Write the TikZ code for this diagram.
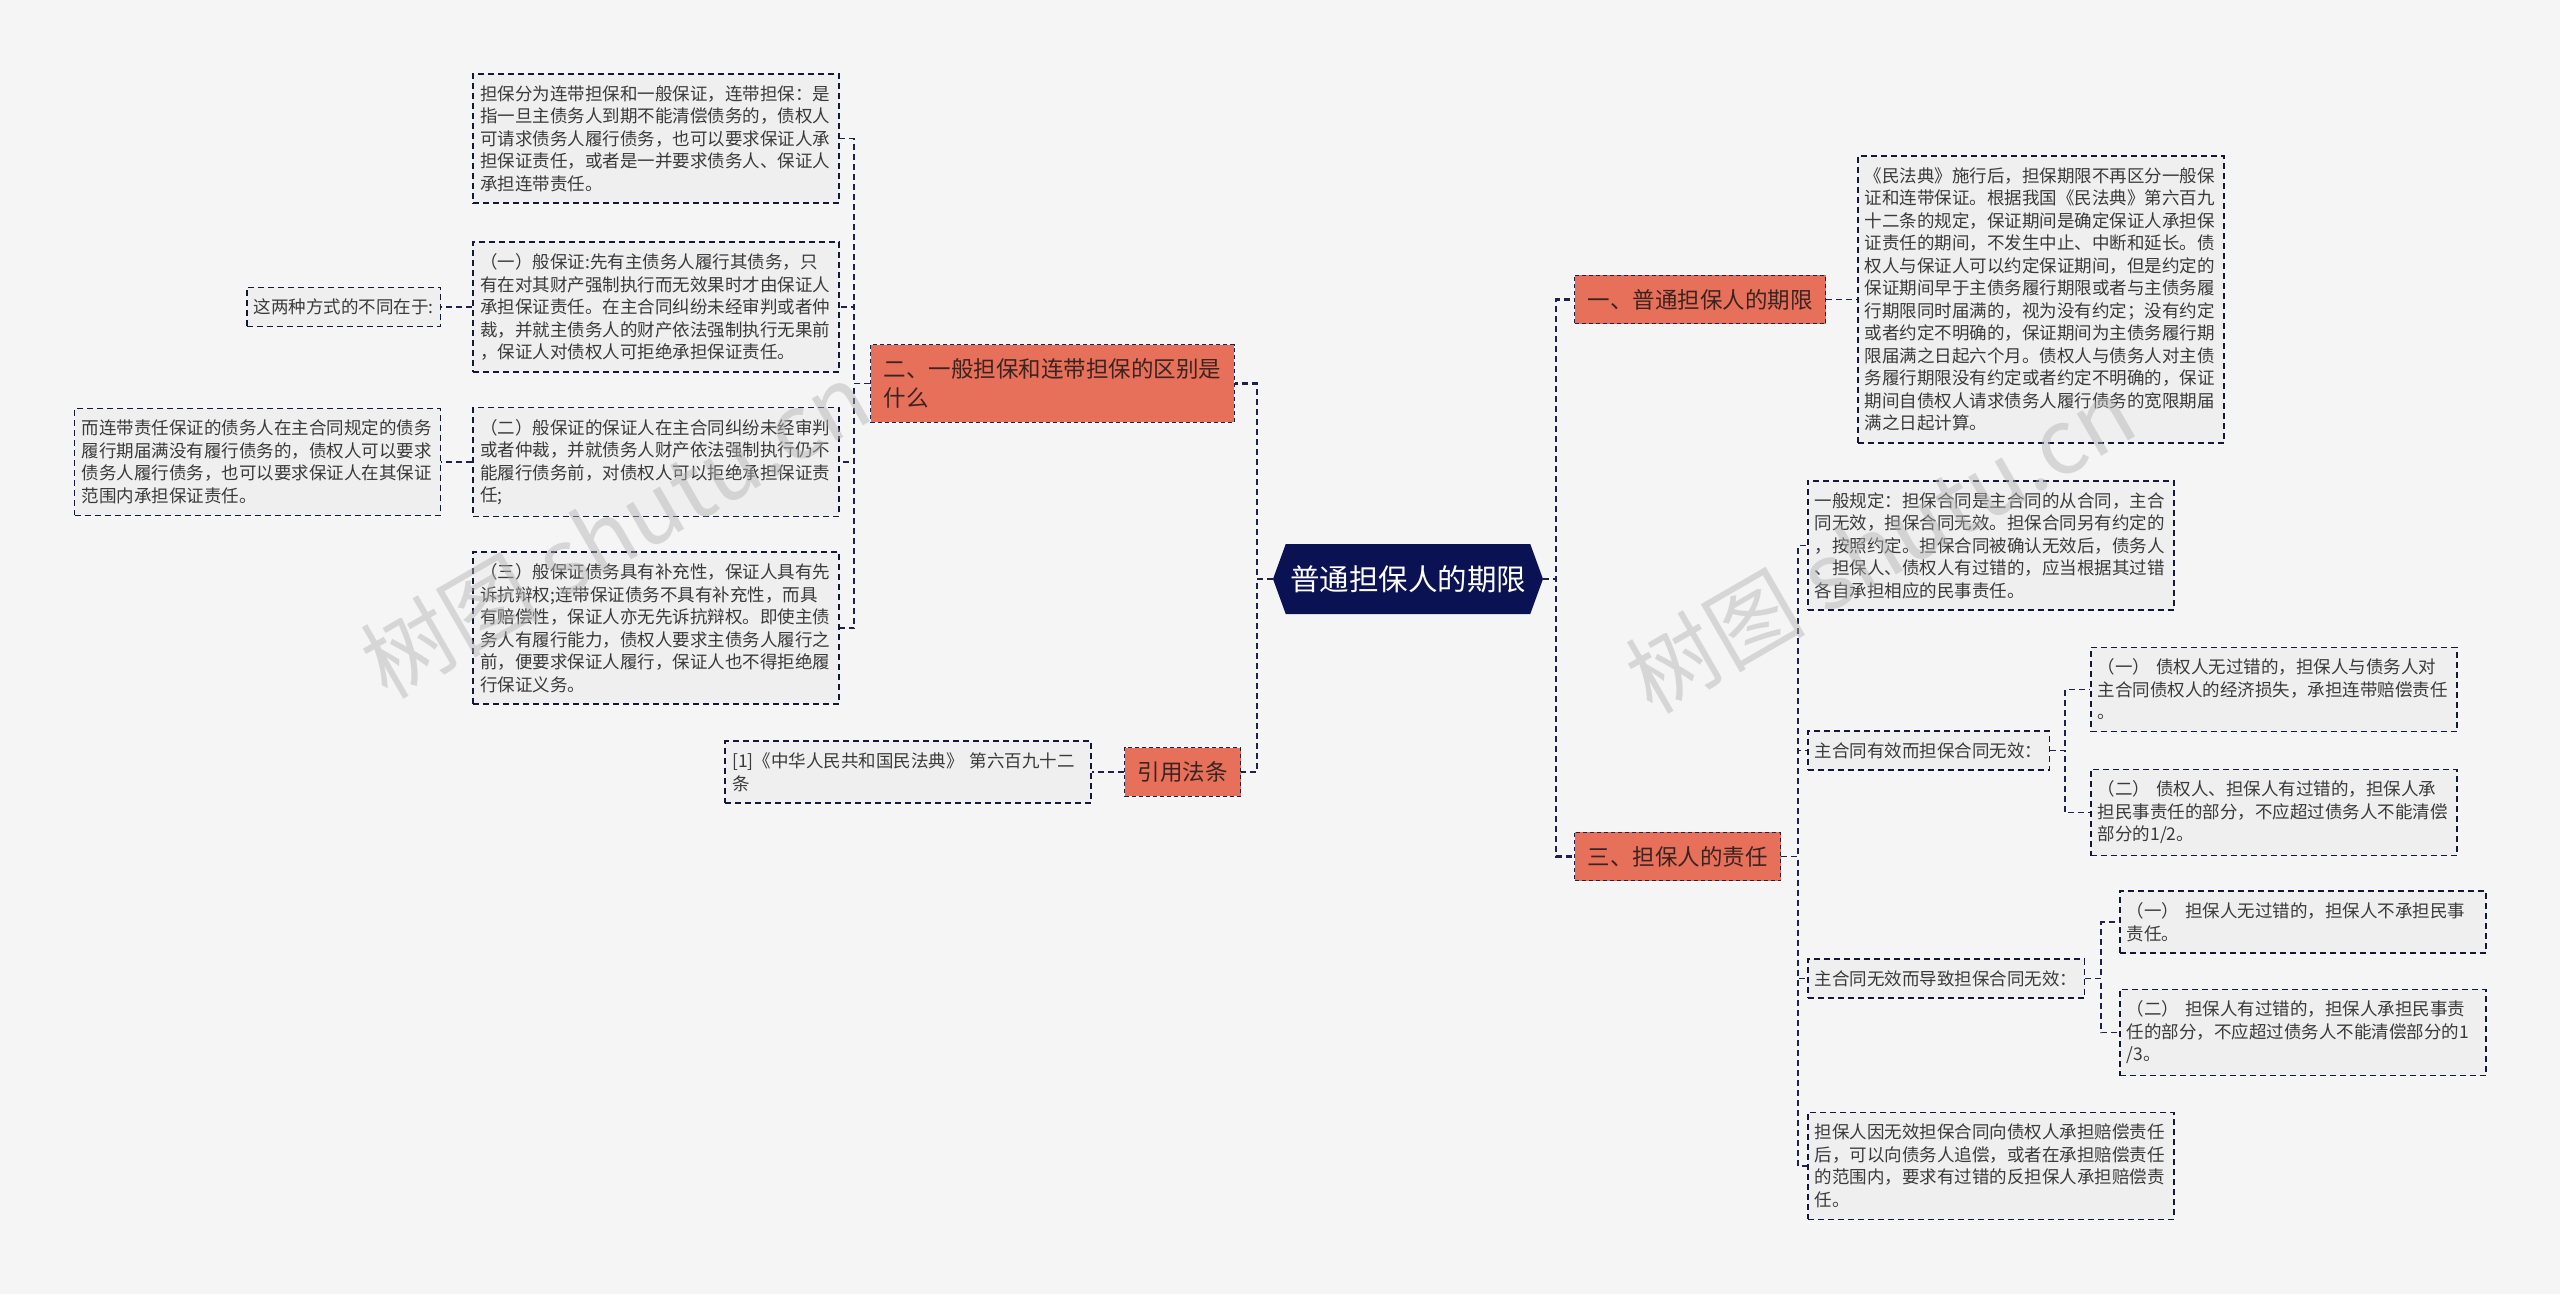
\documentclass[tikz,border=0pt]{standalone}
\usepackage{fontspec}
\setmainfont{Noto Sans CJK SC}
\usetikzlibrary{positioning, shapes.symbols}
\definecolor{canvas}{HTML}{F5F5F5}
\definecolor{notefill}{HTML}{EFEFEF}
\definecolor{ink}{HTML}{3A3A3A}
\definecolor{edge}{HTML}{1E2150}
\definecolor{branch}{HTML}{E7705B}
\definecolor{branchtext}{HTML}{3B2320}
\definecolor{rootfill}{HTML}{0B1253}

\begin{document}
\begin{tikzpicture}[
    x=1pt, y=-1pt,
    link/.style={draw=edge, line width=1.9pt, dash pattern=on 6pt off 4pt},
    trunk/.style={link, line width=2.5pt},
    root/.style={signal, signal to=west and east, signal pointer angle=140,
                 fill=rootfill, text=white, font=\fontsize{29.5}{36}\selectfont,
                 minimum width=270pt, minimum height=70pt, inner xsep=4pt},
    sub/.style={rectangle, fill=branch, draw=edge, line width=1pt,
                dash pattern=on 4pt off 3pt, text=branchtext, align=left,
                font=\fontsize{22.5}{29}\selectfont, inner xsep=13pt, inner ysep=14pt},
    tip/.style={rectangle, fill=notefill, draw=edge!70!black, line width=1.6pt,
                dash pattern=on 6pt off 4pt, text=ink, align=left,
                font=\fontsize{17.5}{22.5}\selectfont, inner xsep=7pt, inner ysep=11.5pt},
    note/.style={tip, text width=352pt},
    wmark/.style={text=black!30, opacity=0.45, rotate=30, font=\fontsize{90}{90}\selectfont}
  ]
    \useasboundingbox (0,0) rectangle (2560,1294);
    \fill[canvas] (0,0) rectangle (2560,1294);

    \node[root] (c) at (1408,579) {普通担保人的期限};

    % left side
    \node[sub, anchor=west] (b2) at (870,383.5) {二、一般担保和连带担保的区别是\\什么};
    \node[sub, anchor=east] (b3) at (1241,772) {引用法条};
    \node[note, left=32pt of b3] (cite) {[1]《中华人民共和国民法典》 第六百九十二\\条};

    \node[note, anchor=east] (l1) at (840,138.5) {担保分为连带担保和一般保证，连带担保：是\\指一旦主债务人到期不能清偿债务的，债权人\\可请求债务人履行债务，也可以要求保证人承\\担保证责任，或者是一并要求债务人、保证人\\承担连带责任。};
    \node[note, anchor=east] (l2) at (840,307) {（一）般保证:先有主债务人履行其债务，只\\有在对其财产强制执行而无效果时才由保证人\\承担保证责任。在主合同纠纷未经审判或者仲\\裁，并就主债务人的财产依法强制执行无果前\\，保证人对债权人可拒绝承担保证责任。};
    \node[note, anchor=east] (l3) at (840,462) {（二）般保证的保证人在主合同纠纷未经审判\\或者仲裁，并就债务人财产依法强制执行仍不\\能履行债务前，对债权人可以拒绝承担保证责\\任;};
    \node[note, anchor=east] (l4) at (840,628) {（三）般保证债务具有补充性，保证人具有先\\诉抗辩权;连带保证债务不具有补充性，而具\\有赔偿性，保证人亦无先诉抗辩权。即使主债\\务人有履行能力，债权人要求主债务人履行之\\前，便要求保证人履行，保证人也不得拒绝履\\行保证义务。};
    \node[tip, left=31pt of l2] (d1) {这两种方式的不同在于:};
    \node[note, left=31pt of l3] (d2) {而连带责任保证的债务人在主合同规定的债务\\履行期届满没有履行债务的，债权人可以要求\\债务人履行债务，也可以要求保证人在其保证\\范围内承担保证责任。};

    % right side
    \node[sub, anchor=west] (r1) at (1574,299.5) {一、普通担保人的期限};
    \node[note, right=31pt of r1] (big) {《民法典》施行后，担保期限不再区分一般保\\证和连带保证。根据我国《民法典》第六百九\\十二条的规定，保证期间是确定保证人承担保\\证责任的期间，不发生中止、中断和延长。债\\权人与保证人可以约定保证期间，但是约定的\\保证期间早于主债务履行期限或者与主债务履\\行期限同时届满的，视为没有约定；没有约定\\或者约定不明确的，保证期间为主债务履行期\\限届满之日起六个月。债权人与债务人对主债\\务履行期限没有约定或者约定不明确的，保证\\期间自债权人请求债务人履行债务的宽限期届\\满之日起计算。};
    \node[sub, anchor=west] (r3) at (1574,856.5) {三、担保人的责任};
    \node[note, anchor=west] (g1) at (1807,545.5) {一般规定：担保合同是主合同的从合同，主合\\同无效，担保合同无效。担保合同另有约定的\\，按照约定。担保合同被确认无效后，债务人\\、担保人、债权人有过错的，应当根据其过错\\各自承担相应的民事责任。};
    \node[tip, anchor=west] (g2) at (1807,750.5) {主合同有效而担保合同无效：};
    \node[note, anchor=west] (s1) at (2090,689.5) {（一） 债权人无过错的，担保人与债务人对\\主合同债权人的经济损失，承担连带赔偿责任\\。};
    \node[note, anchor=west] (s2) at (2090,812.5) {（二） 债权人、担保人有过错的，担保人承\\担民事责任的部分，不应超过债务人不能清偿\\部分的1/2。};
    \node[tip, anchor=west] (g3) at (1807,978.5) {主合同无效而导致担保合同无效：};
    \node[note, anchor=west] (s3) at (2119,922) {（一） 担保人无过错的，担保人不承担民事\\责任。};
    \node[note, anchor=west] (s4) at (2119,1032.5) {（二） 担保人有过错的，担保人承担民事责\\任的部分，不应超过债务人不能清偿部分的1\\/3。};
    \node[note, anchor=west] (g4) at (1807,1166) {担保人因无效担保合同向债权人承担赔偿责任\\后，可以向债务人追偿，或者在承担赔偿责任\\的范围内，要求有过错的反担保人承担赔偿责\\任。};

    \draw[trunk] (c.west) -- ++(-16,0) |- (b2.east);
    \draw[trunk] (c.west) -- ++(-16,0) |- (b3.east);
    \draw[trunk] (c.east) -- ++(13,0) |- (r1.west);
    \draw[trunk] (c.east) -- ++(13,0) |- (r3.west);

    \draw[link] (b2.west) -- ++(-16,0) |- (l1.east);
    \draw[link] (b2.west) -- ++(-16,0) |- (l2.east);
    \draw[link] (b2.west) -- ++(-16,0) |- (l3.east);
    \draw[link] (b2.west) -- ++(-16,0) |- (l4.east);
    \draw[link] (l2) -- (d1);
    \draw[link] (l3) -- (d2);
    \draw[link] (b3) -- (cite);

    \draw[link] (r1) -- (big);
    \draw[link] (r3.east) -- ++(17,0) |- (g1.west);
    \draw[link] (r3.east) -- ++(17,0) |- (g2.west);
    \draw[link] (r3.east) -- ++(17,0) |- (g3.west);
    \draw[link] (r3.east) -- ++(17,0) |- (g4.west);
    \draw[link] (g2.east) -- ++(15,0) |- (s1.west);
    \draw[link] (g2.east) -- ++(15,0) |- (s2.west);
    \draw[link] (g3.east) -- ++(16,0) |- (s3.west);
    \draw[link] (g3.east) -- ++(16,0) |- (s4.west);

    % watermark
    \node[wmark] (w1) at (615,530) {树图 shutu.cn};
    \node[wmark] (w2) at (1880,545) {树图 shutu.cn};
  \end{tikzpicture}
\end{document}
